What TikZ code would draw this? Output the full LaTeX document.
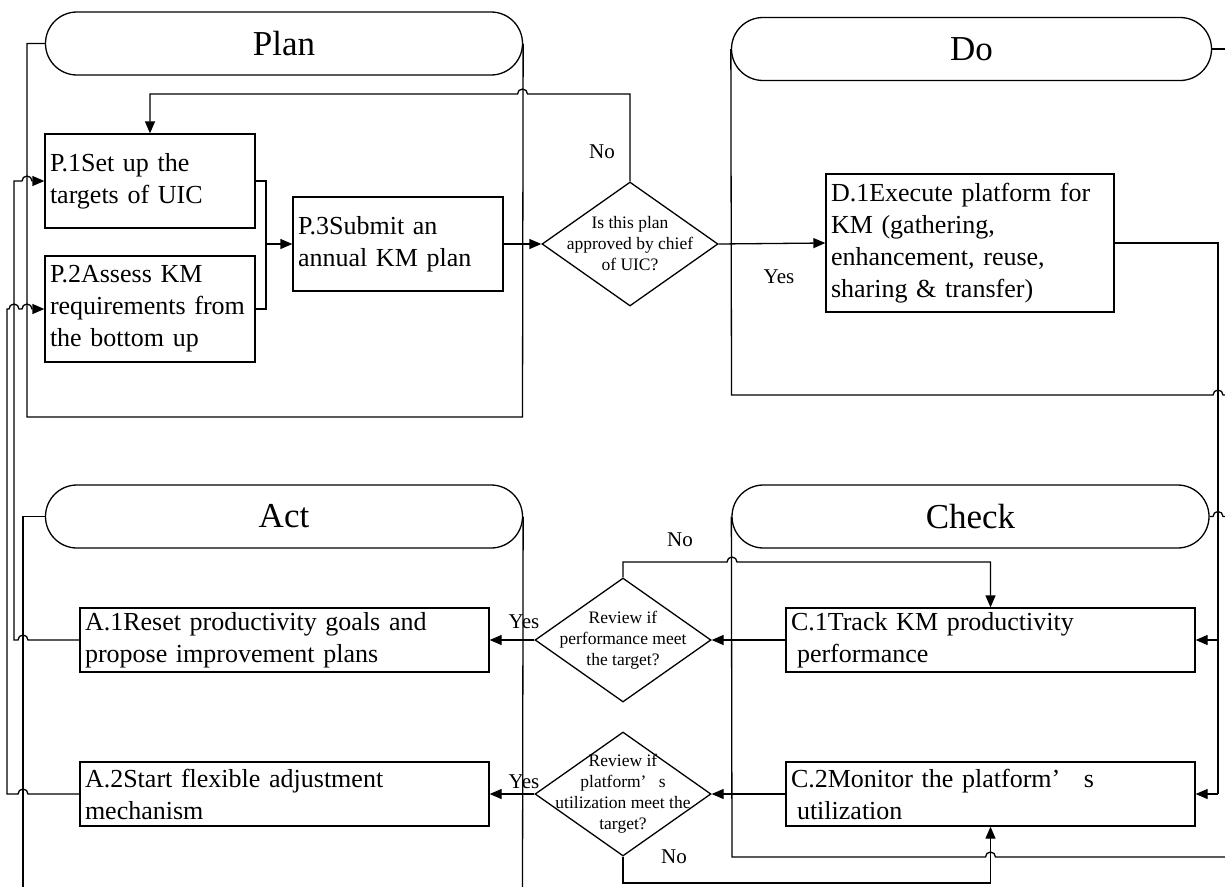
\documentclass[tikz,border=0pt]{standalone}
\usepackage{fontspec}
\setmainfont{Liberation Serif}
\usetikzlibrary{arrows.meta,shapes.geometric}
\begin{document}
\begin{tikzpicture}[x=1pt,y=-1pt,
  line/.style={line width=1.3pt, line join=miter},
  arr/.style={line, -{Triangle[length=12pt,width=10pt]}},
  term/.style={draw, line width=1.3pt, rounded corners=31.5pt, minimum width=477pt,
    minimum height=63pt, inner sep=0pt, font=\fontsize{35pt}{40pt}\selectfont},
  stepbox/.style={draw, line width=1.3pt, inner xsep=5pt, inner ysep=0pt, align=left,
    font=\fontsize{26pt}{32pt}\selectfont},
  decision/.style={diamond, draw, line width=1.3pt, inner sep=0pt,
    minimum width=176pt, minimum height=124pt},
  qtext/.style={align=center, inner sep=0pt, font=\fontsize{17.5pt}{21pt}\selectfont},
  lbl/.style={inner sep=0pt, font=\fontsize{21pt}{24pt}\selectfont}]

\useasboundingbox (0,0) rectangle (1225,886);
\clip (0,0) rectangle (1225,886);
\fill[white] (0,0) rectangle (1225,886);

% phase headers
\node[term] (plan)  at (284,43.5)    {Plan};
\node[term, minimum width=480pt] (do) at (971.5,49) {Do};
\node[term] (act)   at (284,516.5)   {Act};
\node[term] (check) at (970.5,516.5) {Check};

% swimlane frames
\draw[line] (plan.west) -- (27,43.5) -- (27,417) -- (522.5,417) -- (plan.east);
\draw[line] (do.west) -- (731.5,395) -- (1213,395)
  arc[start angle=180, end angle=0, radius=5pt] -- (1230,395);
\draw[line] (do.east) -- (1230,49);
\draw[line] (check.west) -- (732,857) -- (985.5,857)
  arc[start angle=180, end angle=0, radius=5pt] -- (1230,857);
\draw[line] (check.east) -- (1213,516.5)
  arc[start angle=180, end angle=0, radius=5pt] -- (1230,516.5);
\draw[line] (act.west) -- (23,516.5) -- (23,892);
\draw[line] (act.east) -- (522.5,892);

% Plan steps
\node[stepbox, text width=200pt, minimum height=94pt] (p1) at (150,181)
  {P.1Set up the\\targets of UIC};
\node[stepbox, text width=200pt, minimum height=106pt] (p2) at (150,309)
  {P.2Assess KM\\requirements from\\the bottom up};
\node[stepbox, text width=200pt, minimum height=94pt] (p3) at (398,244)
  {P.3Submit an\\annual KM plan};

% approval decision
\node[decision] (q1) at (630,244) {};
\node[qtext] at (q1) {Is this plan\\approved by chief\\of UIC?};

% Do step
\node[stepbox, text width=278pt, minimum height=138pt] (d1) at (970,243)
  {D.1Execute platform for\\KM (gathering,\\enhancement, reuse,\\sharing \& transfer)};

% Check steps
\node[stepbox, text width=399pt, minimum height=64pt] (c1) at (990.5,640)
  {C.1Track KM productivity\\\hspace*{6pt}performance};
\node[stepbox, text width=399pt, minimum height=64pt] (c2) at (990.5,794)
  {C.2Monitor the platform’\hspace{0.9em}s\\\hspace*{6pt}utilization};

% review decisions
\node[decision] (q2) at (623,640) {};
\node[qtext] at (q2) {Review if\\performance meet\\the target?};
\node[decision] (q3) at (623,794) {};
\node[qtext] at (q3) {Review if\\platform’\hspace{0.7em}s\\utilization meet the\\target?};

% Act steps
\node[stepbox, text width=399pt, minimum height=64pt] (a1) at (284.5,640)
  {A.1Reset productivity goals and\\propose improvement plans};
\node[stepbox, text width=399pt, minimum height=64pt] (a2) at (284.5,794)
  {A.2Start flexible adjustment\\mechanism};

% branch labels
\node[lbl] (lno1)  at (602,152) {No};
\node[lbl] (lyes1) at (779,277) {Yes};
\node[lbl] (lno2)  at (680,540) {No};
\node[lbl] (lyes2) at (524,622) {Yes};
\node[lbl] (lyes3) at (524,782) {Yes};
\node[lbl] (lno3)  at (674,857) {No};

% plan flow
\coordinate (mj) at (266,244);
\draw[line] (p1.east) -| (mj) |- (p2.east);
\draw[arr] (mj) -- (p3.west);
\draw[arr] (p3.east) -- (q1.west);
\draw[arr] (q1.east) -- (d1.west);
\draw[arr] (q1.north) -- (630,94) -- (527.5,94)
  arc[start angle=0, end angle=180, radius=5pt] -- (150,94) -- (p1.north);

% do to check
\coordinate (rail1) at (1218,640);
\coordinate (rail2) at (1218,794);
\draw[line] (d1.east) -| (rail2);
\draw[arr] (rail2) -- (c2.east);
\draw[arr] (rail1) -- (c1.east);

% check to reviews
\draw[arr] (c1.west) -- (q2.east);
\draw[arr] (c2.west) -- (q3.east);
\draw[arr] (q2.west) -- (a1.east);
\draw[arr] (q3.west) -- (a2.east);
\draw[arr] (q2.north) -- (623,562) -- (727,562)
  arc[start angle=180, end angle=0, radius=5pt] -- (990.5,562) -- (c1.north);
\draw[arr] (q3.south) -- (623,883) -- (990.5,883) -- (c2.south);

% act feeds back into plan
\draw[arr] (a1.west) -- (28,640) arc[start angle=0, end angle=180, radius=5pt]
  -- (14,640) -- (14,181) -- (22,181)
  arc[start angle=180, end angle=0, radius=5pt] -- (p1.west);
\draw[arr] (a2.west) -- (28,794) arc[start angle=0, end angle=180, radius=5pt]
  -- (7,794) -- (7,309) -- (9,309)
  arc[start angle=180, end angle=0, radius=5pt] -- (22,309)
  arc[start angle=180, end angle=0, radius=5pt] -- (p2.west);
\end{tikzpicture}
\end{document}
